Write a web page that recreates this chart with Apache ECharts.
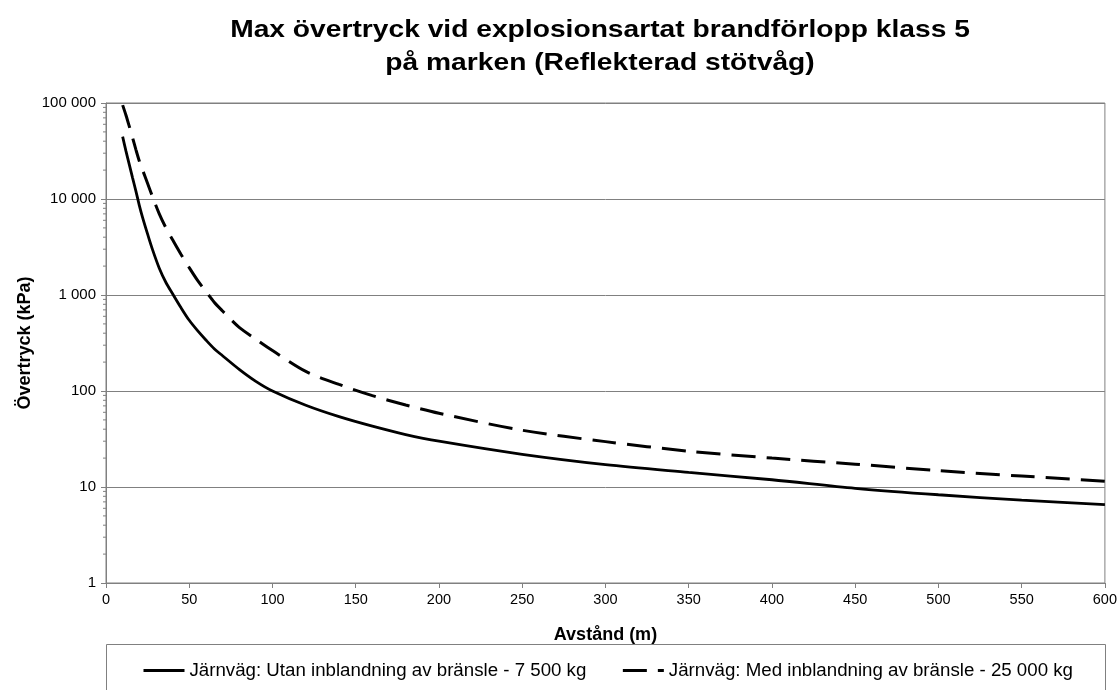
<!DOCTYPE html>
<html>
<head>
<meta charset="utf-8">
<script src="https://cdn.jsdelivr.net/npm/echarts@6/dist/echarts.min.js"></script>
<style>
html,body{margin:0;padding:0;background:#fff;}
#chart{width:1120px;height:690px;}
</style>
</head>
<body>
<div id="chart"></div>
<script>
// ---- data ----
const distances = [10,12,14,16,18,20,22,25,28,32,36,40,45,50,55,60,65,70,80,90,100,120,140,160,180,200,250,300,350,400,450,500,550,600];
const utanValues = [44600,31500,22800,16500,12000,8600,6400,4300,2950,1900,1350,1030,740,545,425,340,276,233,168,126,100,71,54,43,35.2,30,21.9,17.1,14.2,11.9,9.7,8.3,7.3,6.56];
const medValues = [95000,74500,57000,43300,32500,24900,20000,14500,10500,7000,5000,3760,2660,1930,1420,1090,840,682,460,347,264,160,117,89.5,71.5,58.6,39,29.7,23.6,20,17.3,14.8,13,11.5];
const seriesNames = ['Järnväg: Utan inblandning av bränsle - 7 500 kg', 'Järnväg: Med inblandning av bränsle - 25 000 kg'];
const yTickLabels = ['1', '10', '100', '1 000', '10 000', '100 000'];
const xTicks = [0,50,100,150,200,250,300,350,400,450,500,550,600];
const minorTickValues = [];
[1,10,100,1000,10000].forEach(function(d){ [2,3,4,5,6,7,8,9].forEach(function(m){ minorTickValues.push(m*d); }); });

const titleText = 'Max övertryck vid explosionsartat brandförlopp klass 5\npå marken (Reflekterad stötvåg)';

const chart = echarts.init(document.getElementById('chart'), null, {renderer: 'canvas'});
const gray = '#808080';
const FONT = '"Liberation Sans", Arial, sans-serif';

const option = {
  backgroundColor: '#ffffff',
  animation: false,
  grid: {
    left: 106, right: 14, top: 103, bottom: 107,
    show: true, borderColor: gray, borderWidth: 1, backgroundColor: 'transparent'
  },
  legend: {
    data: seriesNames,
    left: 142,
    top: 661,
    padding: 0,
    itemWidth: 41,
    itemHeight: 18,
    itemGap: 35,
    itemStyle: {opacity: 0},
    lineStyle: {width: 3},
    textStyle: {fontFamily: FONT, fontSize: 18.7, color: '#000'}
  },
  graphic: [{
    type: 'rect',
    shape: {x: 106.5, y: 644.5, width: 999, height: 60},
    style: {fill: 'none', stroke: gray, lineWidth: 1},
    silent: true, z: -1
  }, {
    type: 'text',
    x: 600, y: 14,
    scaleX: 1.175,
    style: {
      text: titleText,
      font: 'bold 24px "Liberation Sans", Arial, sans-serif',
      lineHeight: 33,
      fill: '#000',
      align: 'center',
      verticalAlign: 'top'
    },
    silent: true
  }],
  xAxis: {
    type: 'value',
    min: 0, max: 600, interval: 50,
    name: 'Avstånd (m)',
    nameLocation: 'middle',
    nameGap: 43,
    nameMoveOverlap: false,
    nameTextStyle: {fontFamily: FONT, fontSize: 18, fontWeight: 'bold', color: '#000'},
    axisLine: {show: true, lineStyle: {color: gray, width: 1}},
    axisTick: {show: true, length: 5, inside: false, lineStyle: {color: gray}},
    axisLabel: {fontFamily: FONT, fontSize: 14.5, color: '#000', margin: 9,
      formatter: function(v){ return xTicks.indexOf(v) >= 0 ? String(v) : ''; }},
    splitLine: {show: false}
  },
  yAxis: {
    type: 'log',
    logBase: 10,
    min: 1, max: 100000,
    name: 'Övertryck (kPa)',
    nameLocation: 'middle',
    nameGap: 72,
    nameMoveOverlap: false,
    nameTextStyle: {fontFamily: FONT, fontSize: 18, fontWeight: 'bold', color: '#000'},
    axisLine: {show: true, lineStyle: {color: gray, width: 1}},
    axisTick: {show: true, length: 5, inside: false, lineStyle: {color: gray}},
    axisLabel: {fontFamily: FONT, fontSize: 15, color: '#000', margin: 10,
      formatter: function(v){ const i = Math.round(Math.log10(v)); return yTickLabels[i] || ''; }},
    splitLine: {show: true, lineStyle: {color: gray, width: 1}}
  },
  series: [
    {
      name: seriesNames[0],
      type: 'line',
      data: distances.map(function(d, i){ return [d, utanValues[i]]; }),
      symbol: 'none',
      smooth: 0.3,
      lineStyle: {color: '#000', width: 2.8, type: 'solid'},
      itemStyle: {color: '#000'},
      z: 3
    },
    {
      name: seriesNames[1],
      type: 'line',
      data: distances.map(function(d, i){ return [d, medValues[i]]; }),
      symbol: 'none',
      smooth: 0.3,
      lineStyle: {color: '#000', width: 3, type: [24, 11]},
      itemStyle: {color: '#000'},
      z: 3
    },
    {
      name: 'minorTicks',
      type: 'custom',
      silent: true,
      clip: false,
      data: minorTickValues.map(function(v){ return [0, v]; }),
      renderItem: function(params, api){
        const p = api.coord([api.value(0), api.value(1)]);
        return {type: 'line', shape: {x1: p[0] - 3, y1: p[1], x2: p[0], y2: p[1]},
          style: {stroke: gray, lineWidth: 1}};
      },
      z: 2
    }
  ]
};
chart.setOption(option);
</script>
</body>
</html>
